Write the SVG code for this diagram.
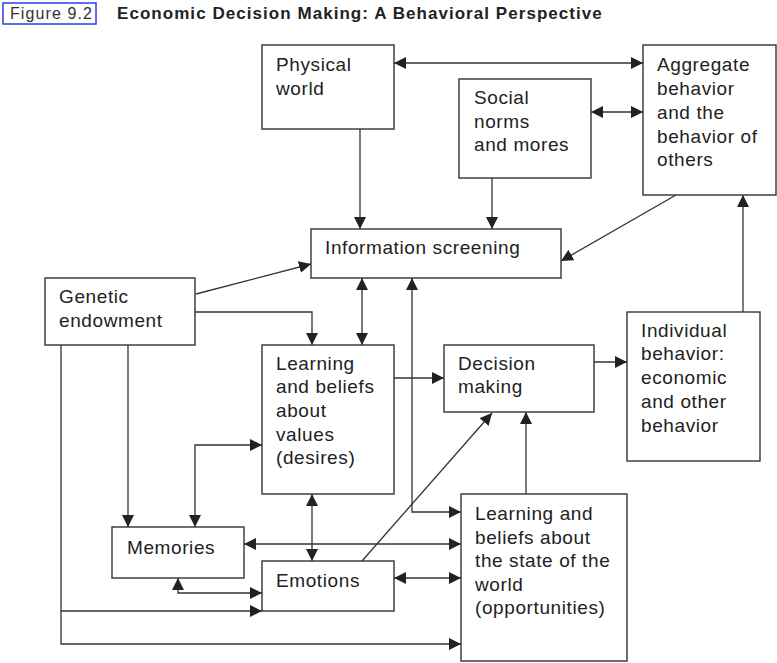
<svg xmlns="http://www.w3.org/2000/svg" width="777" height="663" viewBox="0 0 777 663">
<defs>
<marker id="ah" markerUnits="userSpaceOnUse" markerWidth="13" markerHeight="13" refX="12" refY="6" orient="auto-start-reverse" viewBox="0 0 13 13">
<path d="M0,0 L12,6 L0,12 z" fill="#222"/>
</marker>
</defs>
<style>
.box{fill:#fff;stroke:#333;stroke-width:1.4}
.t{font-family:"Liberation Sans",Arial,sans-serif;font-size:19px;letter-spacing:0.6px;fill:#222}
.c path{fill:none;stroke:#333;stroke-width:1.3}
.b{marker-start:url(#ah);marker-end:url(#ah)}
.e{marker-end:url(#ah)}
</style>
<rect width="777" height="663" fill="#fff"/>
<g id="title">
<rect x="3" y="3" width="93" height="21" fill="none" stroke="#2a3cf0" stroke-width="1.5"/>
<text x="10" y="19" font-family="'Liberation Sans',Arial,sans-serif" font-size="16" letter-spacing="1.1" fill="#333">Figure 9.2</text>
<text x="117" y="19" font-family="'Liberation Sans',Arial,sans-serif" font-size="17" font-weight="bold" letter-spacing="1.05" fill="#222">Economic Decision Making: A Behavioral Perspective</text>
</g>
<g class="c" id="connectors">
<path class="b" d="M394,63 H643"/>
<path class="b" d="M591,112 H643"/>
<path class="e" d="M360,129 V229"/>
<path class="e" d="M492,178 V229"/>
<path class="e" d="M676,195 L561,261"/>
<path class="e" d="M196,294 L311,264"/>
<path class="e" d="M195,312 H312 V345"/>
<path class="b" d="M362,278 V345"/>
<path class="b" d="M412,278 V512 H461"/>
<path class="e" d="M394,378 H444"/>
<path class="e" d="M594,362 H627"/>
<path class="e" d="M743,312 V195"/>
<path class="e" d="M362,561 L492,413"/>
<path class="e" d="M526,494 V412"/>
<path class="e" d="M128,345 V527"/>
<path class="e" d="M61,345 V644 H461"/>
<path class="e" d="M61,611 H262"/>
<path class="b" d="M262,445 H195 V527"/>
<path class="b" d="M312,494 V561"/>
<path class="b" d="M244,544 H461"/>
<path class="b" d="M394,578 H461"/>
<path class="b" d="M178,578 V593 H262"/>
</g>
<g id="physical">
<rect class="box" x="262" y="45" width="132" height="84"/>
<text class="t" x="276" y="71">Physical</text>
<text class="t" x="276" y="95">world</text>
</g>
<g id="social">
<rect class="box" x="459" y="79" width="132" height="99"/>
<text class="t" x="474" y="104">Social</text>
<text class="t" x="474" y="128">norms</text>
<text class="t" x="474" y="151">and mores</text>
</g>
<g id="aggregate">
<rect class="box" x="643" y="45" width="133" height="150"/>
<text class="t" x="657" y="71">Aggregate</text>
<text class="t" x="657" y="95">behavior</text>
<text class="t" x="657" y="119">and the</text>
<text class="t" x="657" y="143">behavior of</text>
<text class="t" x="657" y="166">others</text>
</g>
<g id="info">
<rect class="box" x="311" y="229" width="250" height="49"/>
<text class="t" x="325" y="254">Information screening</text>
</g>
<g id="genetic">
<rect class="box" x="45" y="278" width="150" height="67"/>
<text class="t" x="59" y="303">Genetic</text>
<text class="t" x="59" y="327">endowment</text>
</g>
<g id="learnvalues">
<rect class="box" x="262" y="345" width="132" height="149"/>
<text class="t" x="276" y="370">Learning</text>
<text class="t" x="276" y="393">and beliefs</text>
<text class="t" x="276" y="417">about</text>
<text class="t" x="276" y="441">values</text>
<text class="t" x="276" y="464">(desires)</text>
</g>
<g id="decision">
<rect class="box" x="444" y="345" width="150" height="67"/>
<text class="t" x="458" y="370">Decision</text>
<text class="t" x="458" y="393">making</text>
</g>
<g id="individual">
<rect class="box" x="627" y="312" width="133" height="149"/>
<text class="t" x="641" y="337">Individual</text>
<text class="t" x="641" y="360">behavior:</text>
<text class="t" x="641" y="384">economic</text>
<text class="t" x="641" y="408">and other</text>
<text class="t" x="641" y="432">behavior</text>
</g>
<g id="memories">
<rect class="box" x="112" y="527" width="132" height="51"/>
<text class="t" x="127" y="554">Memories</text>
</g>
<g id="emotions">
<rect class="box" x="262" y="561" width="132" height="50"/>
<text class="t" x="276" y="587">Emotions</text>
</g>
<g id="learnworld">
<rect class="box" x="461" y="494" width="166" height="167"/>
<text class="t" x="475" y="520">Learning and</text>
<text class="t" x="475" y="544">beliefs about</text>
<text class="t" x="475" y="567">the state of the</text>
<text class="t" x="475" y="591">world</text>
<text class="t" x="475" y="614">(opportunities)</text>
</g>
</svg>
